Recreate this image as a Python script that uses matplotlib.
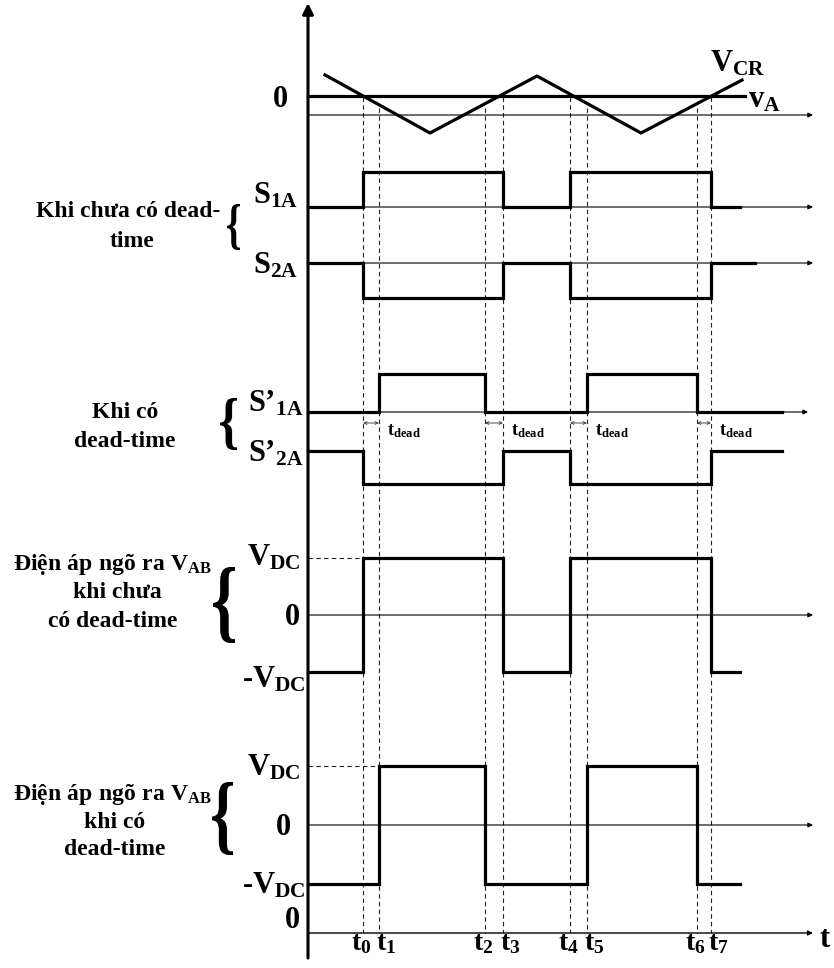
import matplotlib
matplotlib.use('Agg')
import matplotlib.pyplot as plt
from matplotlib.textpath import TextPath
from matplotlib.patches import PathPatch
from matplotlib.transforms import Affine2D
from matplotlib.font_manager import FontProperties

plt.rcParams['font.family'] = ['Liberation Serif', 'DejaVu Serif']
plt.rcParams['font.weight'] = 'bold'
plt.rcParams['mathtext.fontset'] = 'custom'
plt.rcParams['mathtext.rm'] = 'Liberation Serif:bold'
plt.rcParams['mathtext.bf'] = 'Liberation Serif:bold'
plt.rcParams['mathtext.it'] = 'Liberation Serif:bold'

# switching instants t0..t7 (time measured from the vertical axis)
t_inst = [55, 71, 177, 195, 262, 279, 389, 403]
t_names = ['t_0', 't_1', 't_2', 't_3', 't_4', 't_5', 't_6', 't_7']

# triangular carrier v_CR (vertices) and reference v_A
vcr_t = [17, 122, 229, 333, 434]
vcr_v = [0.57, -1.0, 0.54, -1.0, 0.43]
va_level = 0.0

# gate signals / output voltage states between edges
s1a = [0, 1, 0, 1, 0]
s2a = [1, 0, 1, 0, 1]
s1a_dt = [0, 1, 0, 1, 0]
s2a_dt = [1, 0, 1, 0, 1]
vab = [-1, 1, -1, 1, -1]
vab_dt = [-1, 1, -1, 1, -1]

edges_a = [t_inst[0], t_inst[3], t_inst[4], t_inst[7]]   # carrier crossings
edges_b = [t_inst[1], t_inst[2], t_inst[5], t_inst[6]]   # delayed turn-on


def wave(edges, states, end):
    xs, ys = [0], [states[0]]
    for e, s in zip(edges, states[1:]):
        xs += [e, e]
        ys += [ys[-1], s]
    xs.append(end)
    ys.append(states[-1])
    return xs, ys


fig = plt.figure(figsize=(8.34, 9.68), dpi=100)
ax = fig.add_axes([0, 0, 1, 1])
ax.set_xlim(-308, 526)
ax.set_ylim(968, 0)
ax.axis('off')

TH = 2.3   # thick signal lines
AX_END = 505


def h_axis(y, end=AX_END, lw=0.8):
    ax.annotate('', xy=(end, y), xytext=(0, y),
                arrowprops=dict(arrowstyle='-|>', lw=lw, color='black',
                                mutation_scale=7, shrinkA=0, shrinkB=0))


# main vertical axis
ax.annotate('', xy=(0, 3), xytext=(0, 958),
            arrowprops=dict(arrowstyle='-|>', lw=2.2, color='black',
                            mutation_scale=16, shrinkA=0, shrinkB=0), zorder=5)

# --- carrier and reference
ax.plot([0, 437], [96 - va_level * 37] * 2, color='black', lw=TH, zorder=4)
ax.plot(vcr_t, [96 - v * 37 for v in vcr_v], color='black', lw=TH, zorder=4)
h_axis(115)

# --- rows: (states, edges, zero y, scale, end)
rows = [
    (s1a, edges_a, 207, 35, 432),
    (s2a, edges_a, 298, 35, 447),
    (s1a_dt, edges_b, 412, 38, 474),
    (s2a_dt, edges_a, 484, 33, 474),
    (vab, edges_a, 615, 57, 432),
    (vab_dt, edges_b, 825, 59, 432),
]
for states, edges, y0, sc, end in rows:
    xs, ys = wave(edges, states, end)
    ax.plot(xs, [y0 - v * sc for v in ys], color='black', lw=TH,
            zorder=4, solid_joinstyle='miter')

for y in [207, 263, 615, 825, 933]:
    h_axis(y, lw=1.0 if y == 933 else 0.8)
h_axis(412, end=500)

# dashed guide lines
dash_top = [97, 108, 108, 97, 97, 108, 108, 97]
for t, top in zip(t_inst, dash_top):
    ax.plot([t, t], [top, 933], color='#222222', lw=0.8,
            dashes=(4, 3), zorder=2)
ax.plot([0, t_inst[0]], [558, 558], color='#222222', lw=0.8, dashes=(4, 3))
ax.plot([0, t_inst[1]], [766, 766], color='#222222', lw=0.8, dashes=(4, 3))

# dead-time arrows
for a, b in [(0, 1), (2, 3), (4, 5), (6, 7)]:
    ax.annotate('', xy=(t_inst[b], 423), xytext=(t_inst[a], 423),
                arrowprops=dict(arrowstyle='<->', lw=0.7, color='#444444',
                                mutation_scale=5, shrinkA=0, shrinkB=0))
    ax.text(t_inst[b] + 8, 435, r'$\mathbf{t_{dead}}$', fontsize=13,
            ha='left', va='baseline')

# signal labels
BIG = 22
ax.text(-28, 107, '0', fontsize=BIG, ha='center', va='baseline')
ax.text(402, 72, r'$\mathbf{V_{CR}}$', fontsize=BIG, ha='left', va='baseline')
ax.text(440, 107, r'$\mathbf{v_{A}}$', fontsize=BIG, ha='left', va='baseline')
ax.text(-55, 203, r'$\mathbf{S_{1A}}$', fontsize=BIG, ha='left', va='baseline')
ax.text(-55, 274, r'$\mathbf{S_{2A}}$', fontsize=BIG, ha='left', va='baseline')
ax.text(-60, 411, r'$\mathbf{S’_{1A}}$', fontsize=BIG, ha='left', va='baseline')
ax.text(-60, 462, r'$\mathbf{S’_{2A}}$', fontsize=BIG, ha='left', va='baseline')

ax.text(-61, 566, r'$\mathbf{V_{DC}}$', fontsize=BIG, ha='left', va='baseline')
ax.text(-16, 625, '0', fontsize=BIG, ha='center', va='baseline')
ax.text(-66, 687, r'-$\mathbf{V_{DC}}$', fontsize=BIG, ha='left', va='baseline')
ax.text(-61, 776, r'$\mathbf{V_{DC}}$', fontsize=BIG, ha='left', va='baseline')
ax.text(-25, 835, '0', fontsize=BIG, ha='center', va='baseline')
ax.text(-66, 894, r'-$\mathbf{V_{DC}}$', fontsize=BIG, ha='left', va='baseline')
ax.text(-16, 928, '0', fontsize=BIG, ha='center', va='baseline')

for i, (t, name) in enumerate(zip(t_inst, t_names)):
    if i % 2 == 0:
        ax.text(t - 2, 950, r'$\mathbf{%s}$' % name, fontsize=20,
                ha='center', va='baseline')
    else:
        ax.text(t - 3, 950, r'$\mathbf{%s}$' % name, fontsize=20,
                ha='left', va='baseline')
ax.text(512, 947, 't', fontsize=BIG, ha='left', va='baseline')

# group descriptions
SM = 17
ax.text(128 - 308, 217, 'Khi chưa có dead-', fontsize=SM, ha='center', va='baseline')
ax.text(132 - 308, 247, 'time', fontsize=SM, ha='center', va='baseline')
ax.text(125 - 308, 418, 'Khi có', fontsize=SM, ha='center', va='baseline')
ax.text(125 - 308, 447, 'dead-time', fontsize=SM, ha='center', va='baseline')
ax.text(13 - 308, 570, r'$\mathbf{Điện\ áp\ ngõ\ ra\ V_{AB}}$', fontsize=SM,
        ha='left', va='baseline')
ax.text(117 - 308, 598, 'khi chưa', fontsize=SM, ha='center', va='baseline')
ax.text(113 - 308, 627, 'có dead-time', fontsize=SM, ha='center', va='baseline')
ax.text(13 - 308, 800, r'$\mathbf{Điện\ áp\ ngõ\ ra\ V_{AB}}$', fontsize=SM,
        ha='left', va='baseline')
ax.text(115 - 308, 828, 'khi có', fontsize=SM, ha='center', va='baseline')
ax.text(115 - 308, 855, 'dead-time', fontsize=SM, ha='center', va='baseline')

# braces: glyph outline stretched into a box (left, right, top, bottom)
brace_tp = TextPath((0, 0), '{', size=1,
                    prop=FontProperties(family='Liberation Serif', weight='bold'))
ext = brace_tp.get_extents()
for x0, x1, y0, y1 in [(227, 240, 204, 250), (220, 237, 398, 450),
                       (213, 235, 567, 643), (212, 233, 782, 855)]:
    tr = (Affine2D().translate(-ext.x0, -ext.y1)
          .scale((x1 - x0) / ext.width, -(y1 - y0) / ext.height)
          .translate(x0 - 308, y0))
    ax.add_patch(PathPatch(tr.transform_path(brace_tp), facecolor='black',
                           edgecolor='none'))

fig.savefig('out.png', dpi=100)
